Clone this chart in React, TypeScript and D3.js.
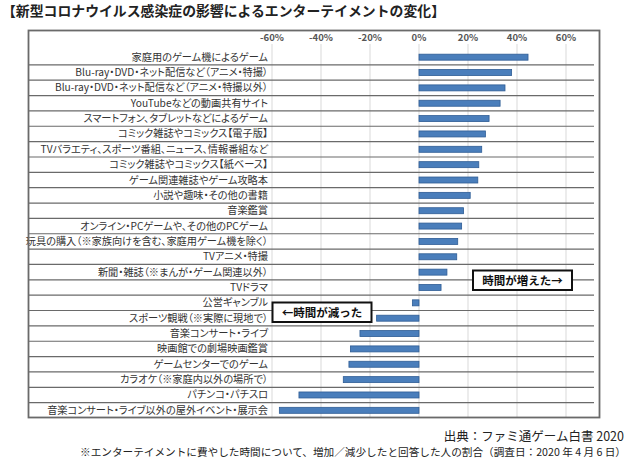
import React from "react";
import * as d3 from "d3";

const categories = [
  "家庭用のゲーム機によるゲーム",
  "Blu-ray・DVD・ネット配信など（アニメ・特撮）",
  "Blu-ray・DVD・ネット配信など（アニメ・特撮以外）",
  "YouTubeなどの動画共有サイト",
  "スマートフォン、タブレットなどによるゲーム",
  "コミック雑誌やコミックス【電子版】",
  "TVバラエティ、スポーツ番組、ニュース、情報番組など",
  "コミック雑誌やコミックス【紙ベース】",
  "ゲーム関連雑誌やゲーム攻略本",
  "小説や趣味・その他の書籍",
  "音楽鑑賞",
  "オンライン・PCゲームや、その他のPCゲーム",
  "玩具の購入（※家族向けを含む、家庭用ゲーム機を除く）",
  "TVアニメ・特撮",
  "新聞・雑誌（※まんが・ゲーム関連以外）",
  "TVドラマ",
  "公営ギャンブル",
  "スポーツ観戦（※実際に現地で）",
  "音楽コンサート・ライブ",
  "映画館での劇場映画鑑賞",
  "ゲームセンターでのゲーム",
  "カラオケ（※家庭内以外の場所で）",
  "パチンコ・パチスロ",
  "音楽コンサート・ライブ以外の屋外イベント・展示会",
];

const values = [
  44.5, 37.8, 35.1, 33.1, 28.6, 27.1, 25.6, 24.4, 24.0, 20.9, 18.2, 17.4,
  15.8, 15.4, 11.4, 9.0, -2.7, -17.3, -24.1, -28.0, -28.6, -30.9, -49.0, -57.0,
];

const ticks = [-60, -40, -20, 0, 20, 40, 60];

const title = "【新型コロナウイルス感染症の影響によるエンターテイメントの変化】";
const source = "出典：ファミ通ゲーム白書 2020";
const footnote =
  "※エンターテイメントに費やした時間について、増加／減少したと回答した人の割合（調査日：2020 年 4 月 6 日）";
const upLabel = "時間が増えた→";
const downLabel = "←時間が減った";

const FONT = "'Noto Sans CJK JP', 'Noto Sans', sans-serif";

export default function App() {
  const W = 639;
  const H = 460;
  const box = { x: 28.5, y: 30.5, w: 571, h: 387 };
  const x = d3.scaleLinear().domain([-60, 60]).range([272, 566]);
  const y = d3
    .scaleBand<string>()
    .domain(categories)
    .range([49.5, 418])
    .paddingInner(0)
    .paddingOuter(0);
  const bh = 6;
  const labelX = 268;
  const lineRight = 594;

  return (
    <svg
      width={W}
      height={H}
      style={{ position: "absolute", left: 0, top: 0, background: "#fff" }}
      fontFamily={FONT}
    >
      <rect x={0} y={0} width={W} height={H} fill="#fff" />
      <text x={2} y={15.5} fontSize={13.8} fontWeight={700} fill="#222" textLength={443} lengthAdjust="spacingAndGlyphs">
        {title}
      </text>

      {ticks.map((t) => (
        <line
          key={"g" + t}
          x1={x(t)}
          x2={x(t)}
          y1={44}
          y2={box.y + box.h}
          stroke="#d9d9d9"
          strokeWidth={1}
        />
      ))}

      {ticks.map((t) => (
        <text
          key={"t" + t}
          x={x(t)}
          y={40.5}
          textAnchor="middle"
          fontSize={9.5}
          fontWeight={700}
          fill="#555"
        >
          {t + "%"}
        </text>
      ))}

      {categories.slice(0, -1).map((c) => (
        <line
          key={"s" + c}
          x1={box.x}
          x2={lineRight}
          y1={(y(c) as number) + y.bandwidth()}
          y2={(y(c) as number) + y.bandwidth()}
          stroke="#6a6a6a"
          strokeWidth={1.2}
        />
      ))}

      {categories.map((c) => (
        <text
          key={"l" + c}
          x={labelX}
          y={(y(c) as number) + y.bandwidth() / 2 + 3.5}
          textAnchor="end"
          fontSize={10.2}
          fill="#333"
          style={{ fontFeatureSettings: '"palt"' }}
        >
          {c}
        </text>
      ))}

      {categories.map((c, i) => {
        const v = values[i];
        const x0 = x(Math.min(0, v));
        const x1 = x(Math.max(0, v));
        return (
          <rect
            key={"b" + c}
            x={x0}
            y={(y(c) as number) + y.bandwidth() / 2 - bh / 2}
            width={x1 - x0}
            height={bh}
            fill="#4a7ebb"
            stroke="#2f5d95"
            strokeWidth={0.8}
          />
        );
      })}

      <rect
        x={box.x}
        y={box.y}
        width={box.w}
        height={box.h}
        fill="none"
        stroke="#6a6a6a"
        strokeWidth={1.8}
      />

      <rect x={473} y={270.5} width={99} height={19.5} fill="#fff" stroke="#111" strokeWidth={2} />
      <text x={522.5} y={284.5} textAnchor="middle" fontSize={11.5} fontWeight={700} fill="#111">
        {upLabel}
      </text>
      <rect x={272.5} y={302.5} width={99} height={19.5} fill="#fff" stroke="#111" strokeWidth={2} />
      <text x={322} y={316.5} textAnchor="middle" fontSize={11.5} fontWeight={700} fill="#111">
        {downLabel}
      </text>

      <text x={624} y={440.5} textAnchor="end" fontSize={12.5} fill="#222">
        {source}
      </text>
      <text x={80} y={455.5} fontSize={10.5} fill="#222" textLength={546} lengthAdjust="spacingAndGlyphs">
        {footnote}
      </text>
    </svg>
  );
}
